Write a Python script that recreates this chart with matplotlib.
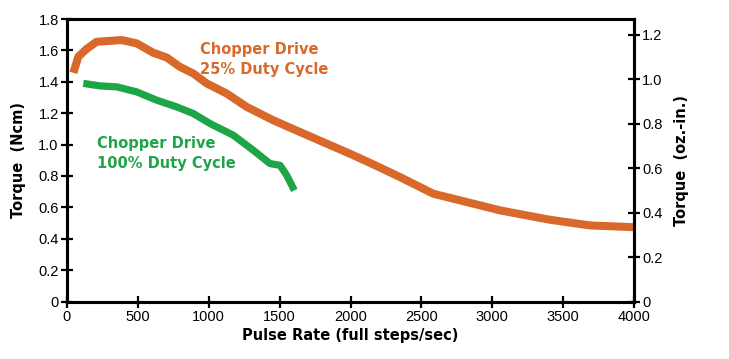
import matplotlib.pyplot as plt
import numpy as np

plt.rcParams['font.family'] = ['Liberation Sans', 'DejaVu Sans']

# chopper drive, 25% duty cycle (orange)
rate_25 = [45, 80, 139, 209, 303, 386, 491, 609, 703, 797, 891, 985, 1127, 1268,
           1455, 1644, 1832, 1996, 2170, 2349, 2584, 2820, 3055, 3408, 3690, 3995]
torque_25 = [1.457, 1.56, 1.61, 1.655, 1.661, 1.666, 1.645, 1.585, 1.555, 1.495,
             1.453, 1.39, 1.325, 1.24, 1.155, 1.08, 1.006, 0.942, 0.87, 0.793,
             0.687, 0.634, 0.581, 0.521, 0.485, 0.474]

# chopper drive, 100% duty cycle (green)
rate_100 = [115, 233, 350, 491, 633, 774, 891, 1009, 1173, 1314, 1432, 1503, 1550, 1604]
torque_100 = [1.39, 1.374, 1.368, 1.336, 1.283, 1.24, 1.198, 1.134, 1.06, 0.964,
              0.879, 0.868, 0.804, 0.708]

x_ticks = [0, 500, 1000, 1500, 2000, 2500, 3000, 3500, 4000]
left_ticks = [0, 0.2, 0.4, 0.6, 0.8, 1.0, 1.2, 1.4, 1.6, 1.8]
left_labels = ['0', '0.2', '0.4', '0.6', '0.8', '1.0', '1.2', '1.4', '1.6', '1.8']
right_ticks = [0, 0.2, 0.4, 0.6, 0.8, 1.0, 1.2]
right_labels = ['0', '0.2', '0.4', '0.6', '0.8', '1.0', '1.2']

orange = '#d8692a'
green = '#1ea548'
bold_font = ['DejaVu Sans']

fig = plt.figure(figsize=(7.29, 3.59), dpi=100)
ax = fig.add_axes([0.0919, 0.160, 0.7778, 0.787])

ax.plot(rate_25, torque_25, color=orange, lw=5.8, solid_capstyle='butt', solid_joinstyle='round')
ax.plot(rate_100, torque_100, color=green, lw=5.2, solid_capstyle='butt', solid_joinstyle='round')

ax.set_xlim(0, 4000)
ax.set_ylim(0, 1.8)
ax.set_xticks(x_ticks)
ax.set_yticks(left_ticks)
ax.set_yticklabels(left_labels)
ax.tick_params(direction='inout', length=8, width=1.6, labelsize=10.5, pad=2)
for s in ax.spines.values():
    s.set_linewidth(2.2)

ax.set_xlabel('Pulse Rate (full steps/sec)', fontsize=10.5, fontweight='bold',
              family=bold_font, labelpad=3)
ax.set_ylabel('Torque  (Ncm)', fontsize=10.5, fontweight='bold', family=bold_font, labelpad=9)

ax2 = ax.twinx()
ax2.set_ylim(0, 1.8 / 1.416)
ax2.set_yticks(right_ticks)
ax2.set_yticklabels(right_labels)
ax2.tick_params(direction='inout', length=8, width=1.6, labelsize=10.5, pad=2)
for s in ax2.spines.values():
    s.set_linewidth(2.2)
ax2.set_ylabel('Torque  (oz.-in.)', fontsize=10.5, fontweight='bold', family=bold_font, labelpad=8)

ax.text(938, 1.655, 'Chopper Drive\n25% Duty Cycle', color=orange, fontsize=10.5,
        fontweight='bold', family=bold_font, va='top', ha='left', linespacing=1.45)
ax.text(212, 1.055, 'Chopper Drive\n100% Duty Cycle', color=green, fontsize=10.5,
        fontweight='bold', family=bold_font, va='top', ha='left', linespacing=1.45)

fig.savefig('out.png', dpi=100)
